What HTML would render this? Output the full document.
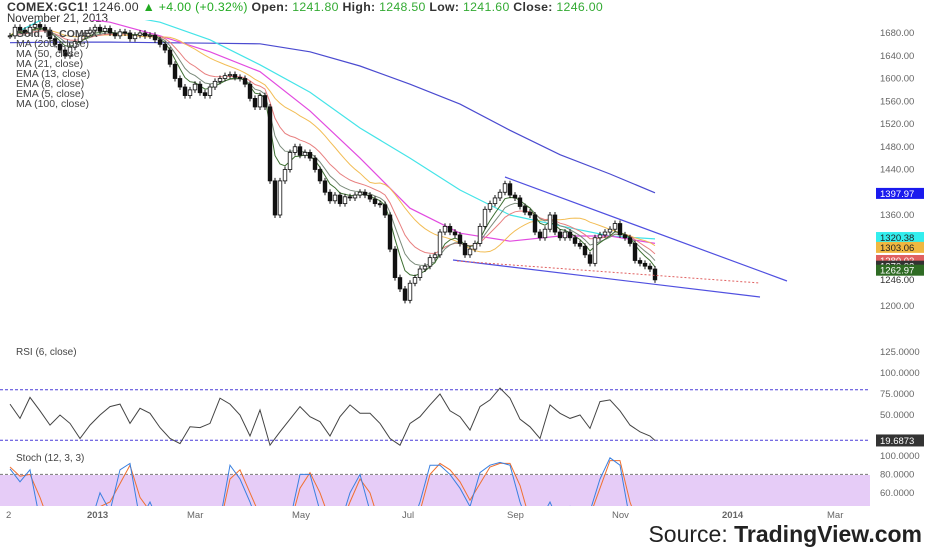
<!DOCTYPE html>
<html><head><meta charset="utf-8"><style>
body{margin:0;background:#fff;}
svg{display:block;font-family:"Liberation Sans",sans-serif;}
</style></head><body>
<svg id="c" width="932" height="550" viewBox="0 0 932 550">
<defs><clipPath id="pc"><rect x="0" y="20" width="870" height="312"/></clipPath>
<clipPath id="sc"><rect x="0" y="445" width="870" height="61"/></clipPath></defs>
<text x="7" y="11" font-size="12.3" letter-spacing="0.3" font-weight="bold" fill="#333">COMEX:GC1! <tspan font-weight="normal">1246.00</tspan> <tspan fill="#2a2" font-weight="normal">▲ +4.00 (+0.32%)</tspan>  Open: <tspan fill="#3a3" font-weight="normal">1241.80</tspan> High: <tspan fill="#3a3" font-weight="normal">1248.50</tspan> Low: <tspan fill="#3a3" font-weight="normal">1241.60</tspan> Close: <tspan fill="#3a3" font-weight="normal">1246.00</tspan></text>
<text x="7" y="22" font-size="11.5" fill="#333">November 21, 2013</text>
<g id="price" clip-path="url(#pc)"></g>
<g id="rsi"></g>
<rect x="0" y="475" width="870" height="31" fill="#e6ccf7"/>
<g id="stoch" clip-path="url(#sc)"></g>
<g font-size="10.5" fill="#444">
<text x="16" y="37" font-weight="bold">Gold, D, COMEX</text>
<text x="16" y="47">MA (200, close)</text><text x="16" y="57">MA (50, close)</text>
<text x="16" y="67">MA (21, close)</text><text x="16" y="77">EMA (13, close)</text>
<text x="16" y="87">EMA (8, close)</text><text x="16" y="97">EMA (5, close)</text>
<text x="16" y="107">MA (100, close)</text></g>
<text x="16" y="355" font-size="10" fill="#444">RSI (6, close)</text>
<text x="16" y="461" font-size="10" fill="#444">Stoch (12, 3, 3)</text>
<g id="axes" font-size="9.5" fill="#666"></g>
<text x="922" y="542" font-size="23" text-anchor="end" fill="#222">Source: <tspan font-weight="bold">TradingView.com</tspan></text>
</svg>
<script>
const closes=[1675,1690,1685,1680,1690,1695,1690,1685,1670,1660,1650,1640,1655,1665,1675,1680,1685,1690,1683,1688,1680,1675,1682,1680,1670,1676,1680,1675,1676,1668,1660,1650,1625,1600,1585,1570,1580,1590,1575,1570,1585,1595,1600,1605,1607,1602,1600,1590,1565,1550,1570,1550,1420,1360,1420,1440,1470,1480,1465,1470,1460,1440,1420,1400,1385,1395,1380,1392,1390,1395,1400,1395,1388,1380,1378,1360,1300,1250,1230,1210,1240,1250,1265,1270,1285,1290,1330,1340,1330,1325,1310,1290,1300,1310,1340,1370,1380,1390,1400,1415,1395,1390,1375,1365,1360,1330,1320,1335,1360,1330,1320,1330,1320,1310,1305,1290,1275,1320,1325,1330,1335,1345,1325,1320,1310,1280,1275,1270,1265,1246];
const ma200=[1663,1664,1664,1663,1662,1661,1647,1622,1590,1555,1509,1466,1432,1399];
const ma100=[1675,1720,1715,1699,1668,1624,1576,1513,1460,1404,1360,1341,1323,1318];
const ma50=[1720,1710,1699,1675,1647,1612,1543,1460,1372,1328,1314,1323,1323,1310];
const rsi=[63,46,71,55,38,50,40,22,38,50,60,63,40,58,52,35,22,16,36,35,40,70,63,50,25,56,14,30,45,60,48,42,25,48,62,52,52,40,22,14,40,48,62,75,55,48,32,60,68,82,70,45,36,22,62,52,46,50,34,66,68,55,38,30,25,19.69];
const stochK=[86,72,85,30,20,10,15,20,25,60,40,85,92,30,50,25,15,10,10,20,20,30,90,75,50,20,10,20,30,80,80,40,20,25,60,80,40,15,10,15,20,50,90,90,80,65,45,82,90,93,90,50,20,30,50,25,45,20,40,75,98,90,30,15,10,8];
const stochD=[88,78,80,55,25,15,12,18,22,45,50,70,90,55,40,35,20,12,10,15,20,25,75,85,60,35,15,15,25,65,82,60,30,22,50,75,60,25,12,12,18,40,80,92,85,72,52,70,88,92,92,68,30,25,45,35,40,30,35,65,95,95,50,20,12,10];
const priceTicks=[1680,1640,1600,1560,1520,1480,1440,1360,1200];
const rsiTicks=[125,100,75,50];
const stochTicks=[100,80,60];
const monthLabels=["2","2013","Mar","May","Jul","Sep","Nov","2014","Mar"];
const monthBars=[0,17,37,58,80,101,122,144,165];
const levels=[{v:1397.97,c:"#1a1aee",t:"#fff"},{v:1320.38,c:"#33eeee",t:"#222"},{v:1303.06,c:"#f0b840",t:"#222"},{v:1280.02,c:"#e06060",t:"#fff"},{v:1270.02,c:"#333",t:"#fff"},{v:1262.97,c:"#2f6b24",t:"#fff"}];

const NS="http://www.w3.org/2000/svg";
const xOf=i=>10+i*5;
const yP=p=>33+(1680-p)*0.56875;
const yR=v=>352+(125-v)*0.84;
const yS=v=>456+(100-v)*0.92;
function mk(tag,attrs,parent){const e=document.createElementNS(NS,tag);for(const k in attrs)e.setAttribute(k,attrs[k]);parent.appendChild(e);return e;}
const gP=document.getElementById('price'),gR=document.getElementById('rsi'),gS=document.getElementById('stoch'),gA=document.getElementById('axes');

function sparsePath(arr,color,w,name){
  const pts=arr.map((v,k)=>{const i=k<arr.length-1?k*10:closes.length-1;return xOf(i)+","+yP(v).toFixed(1);});
  const e=mk('polyline',{points:pts.join(" "),fill:"none",stroke:color,"stroke-width":w},gP);
  
  
}
function ema(n){const a=2/(n+1);let out=[],p=closes[0];closes.forEach(c=>{p=a*c+(1-a)*p;out.push(p);});return out;}
function sma(n){return closes.map((c,i)=>{const s=closes.slice(Math.max(0,i-n+1),i+1);return s.reduce((a,b)=>a+b,0)/s.length;});}
function fullPath(arr,color,w,name){
  const e=mk('polyline',{points:arr.map((v,i)=>xOf(i)+","+yP(v).toFixed(1)).join(" "),fill:"none",stroke:color,"stroke-width":w},gP);
  
  
}
sparsePath(ma200,"#4b4bd0",1.2,"ma200-line");
sparsePath(ma100,"#44e4e8",1.2,"ma100-line");
sparsePath(ma50,"#e24be0",1.2,"ma50-line");
fullPath(sma(21),"#f2bd55",1,"ma21-line");
fullPath(ema(13),"#e88080",1,"ema13-line");
fullPath(ema(8),"#7a8a7a",1,"ema8-line");
fullPath(ema(5),"#3c6e30",1,"ema5-line");

closes.forEach((c,i)=>{
  const o=i>0?closes[i-1]:c;const x=xOf(i);
  const y1=yP(Math.max(o,c)),y2=yP(Math.min(o,c));
  const w=mk('line',{x1:x,x2:x,y1:y1-3,y2:y2+3,stroke:"#111","stroke-width":1},gP);
  
  
  const b=mk('rect',{x:x-1.8,y:y1,width:3.6,height:Math.max(1,y2-y1),fill:c<o?"#111":"#fff",stroke:"#111","stroke-width":0.8},gP);
  
  
});
[[505,177,787,281],[453,260,760,297]].forEach(l=>{
  const e=mk('line',{x1:l[0],y1:l[1],x2:l[2],y2:l[3],stroke:"#5050e0","stroke-width":1.2},gP);
  
  
});
const dl=mk('line',{x1:457,y1:261,x2:760,y2:283,stroke:"#e06060","stroke-width":1,"stroke-dasharray":"2,2"},gP);



priceTicks.forEach(p=>{const t=mk('text',{x:880,y:yP(p)+3},gA);t.textContent=p.toFixed(2);
  
  });
levels.forEach(l=>{const y=yP(l.v);
  const r=mk('rect',{x:876,y:y-5.5,width:48,height:11,fill:l.c},gA);
  
  
  const t=mk('text',{x:880,y:y+3.5,fill:l.t},gA);t.textContent=l.v.toFixed(2);
  
  });
const cur=mk('text',{x:880,y:yP(1246)+3,fill:"#333"},gA);cur.textContent="1246.00";



[80,20].forEach(v=>{const e=mk('line',{x1:0,x2:870,y1:yR(v),y2:yR(v),stroke:"#4a3bd8","stroke-width":1,"stroke-dasharray":"3,2"},gR);
  
  });
const rp=rsi.map((v,k)=>{const i=k<rsi.length-1?k*2:closes.length-1;return xOf(i)+","+yR(v).toFixed(1);});
const rl=mk('polyline',{points:rp.join(" "),fill:"none",stroke:"#444","stroke-width":1},gR);


rsiTicks.forEach(v=>{const t=mk('text',{x:880,y:yR(v)+3},gA);t.textContent=v.toFixed(4);
  
  });
const rb=mk('rect',{x:876,y:yR(19.69)-6,width:48,height:12,fill:"#333"},gA);


const rt=mk('text',{x:880,y:yR(19.69)+3.5,fill:"#fff"},gA);rt.textContent="19.6873";



const sl=mk('line',{x1:0,x2:870,y1:yS(80),y2:yS(80),stroke:"#777","stroke-width":1,"stroke-dasharray":"3,2"},gS);


[[stochD,"#f07030","stoch-d-line"],[stochK,"#3a80e0","stoch-k-line"]].forEach(s=>{
  const pts=s[0].map((v,k)=>{const i=k<s[0].length-1?k*2:closes.length-1;return xOf(i)+","+yS(v).toFixed(1);});
  const e=mk('polyline',{points:pts.join(" "),fill:"none",stroke:s[1],"stroke-width":1},gS);
  
  
});
stochTicks.forEach(v=>{const t=mk('text',{x:880,y:yS(v)+3},gA);t.textContent=v.toFixed(4);
  
  });

monthLabels.forEach((m,k)=>{const t=mk('text',{x:xOf(monthBars[k])-(k==0?4:8),y:518,"font-weight":/^\d{4}$/.test(m)?"bold":"normal"},gA);t.textContent=m;
  
  });
</script>
</body></html>
